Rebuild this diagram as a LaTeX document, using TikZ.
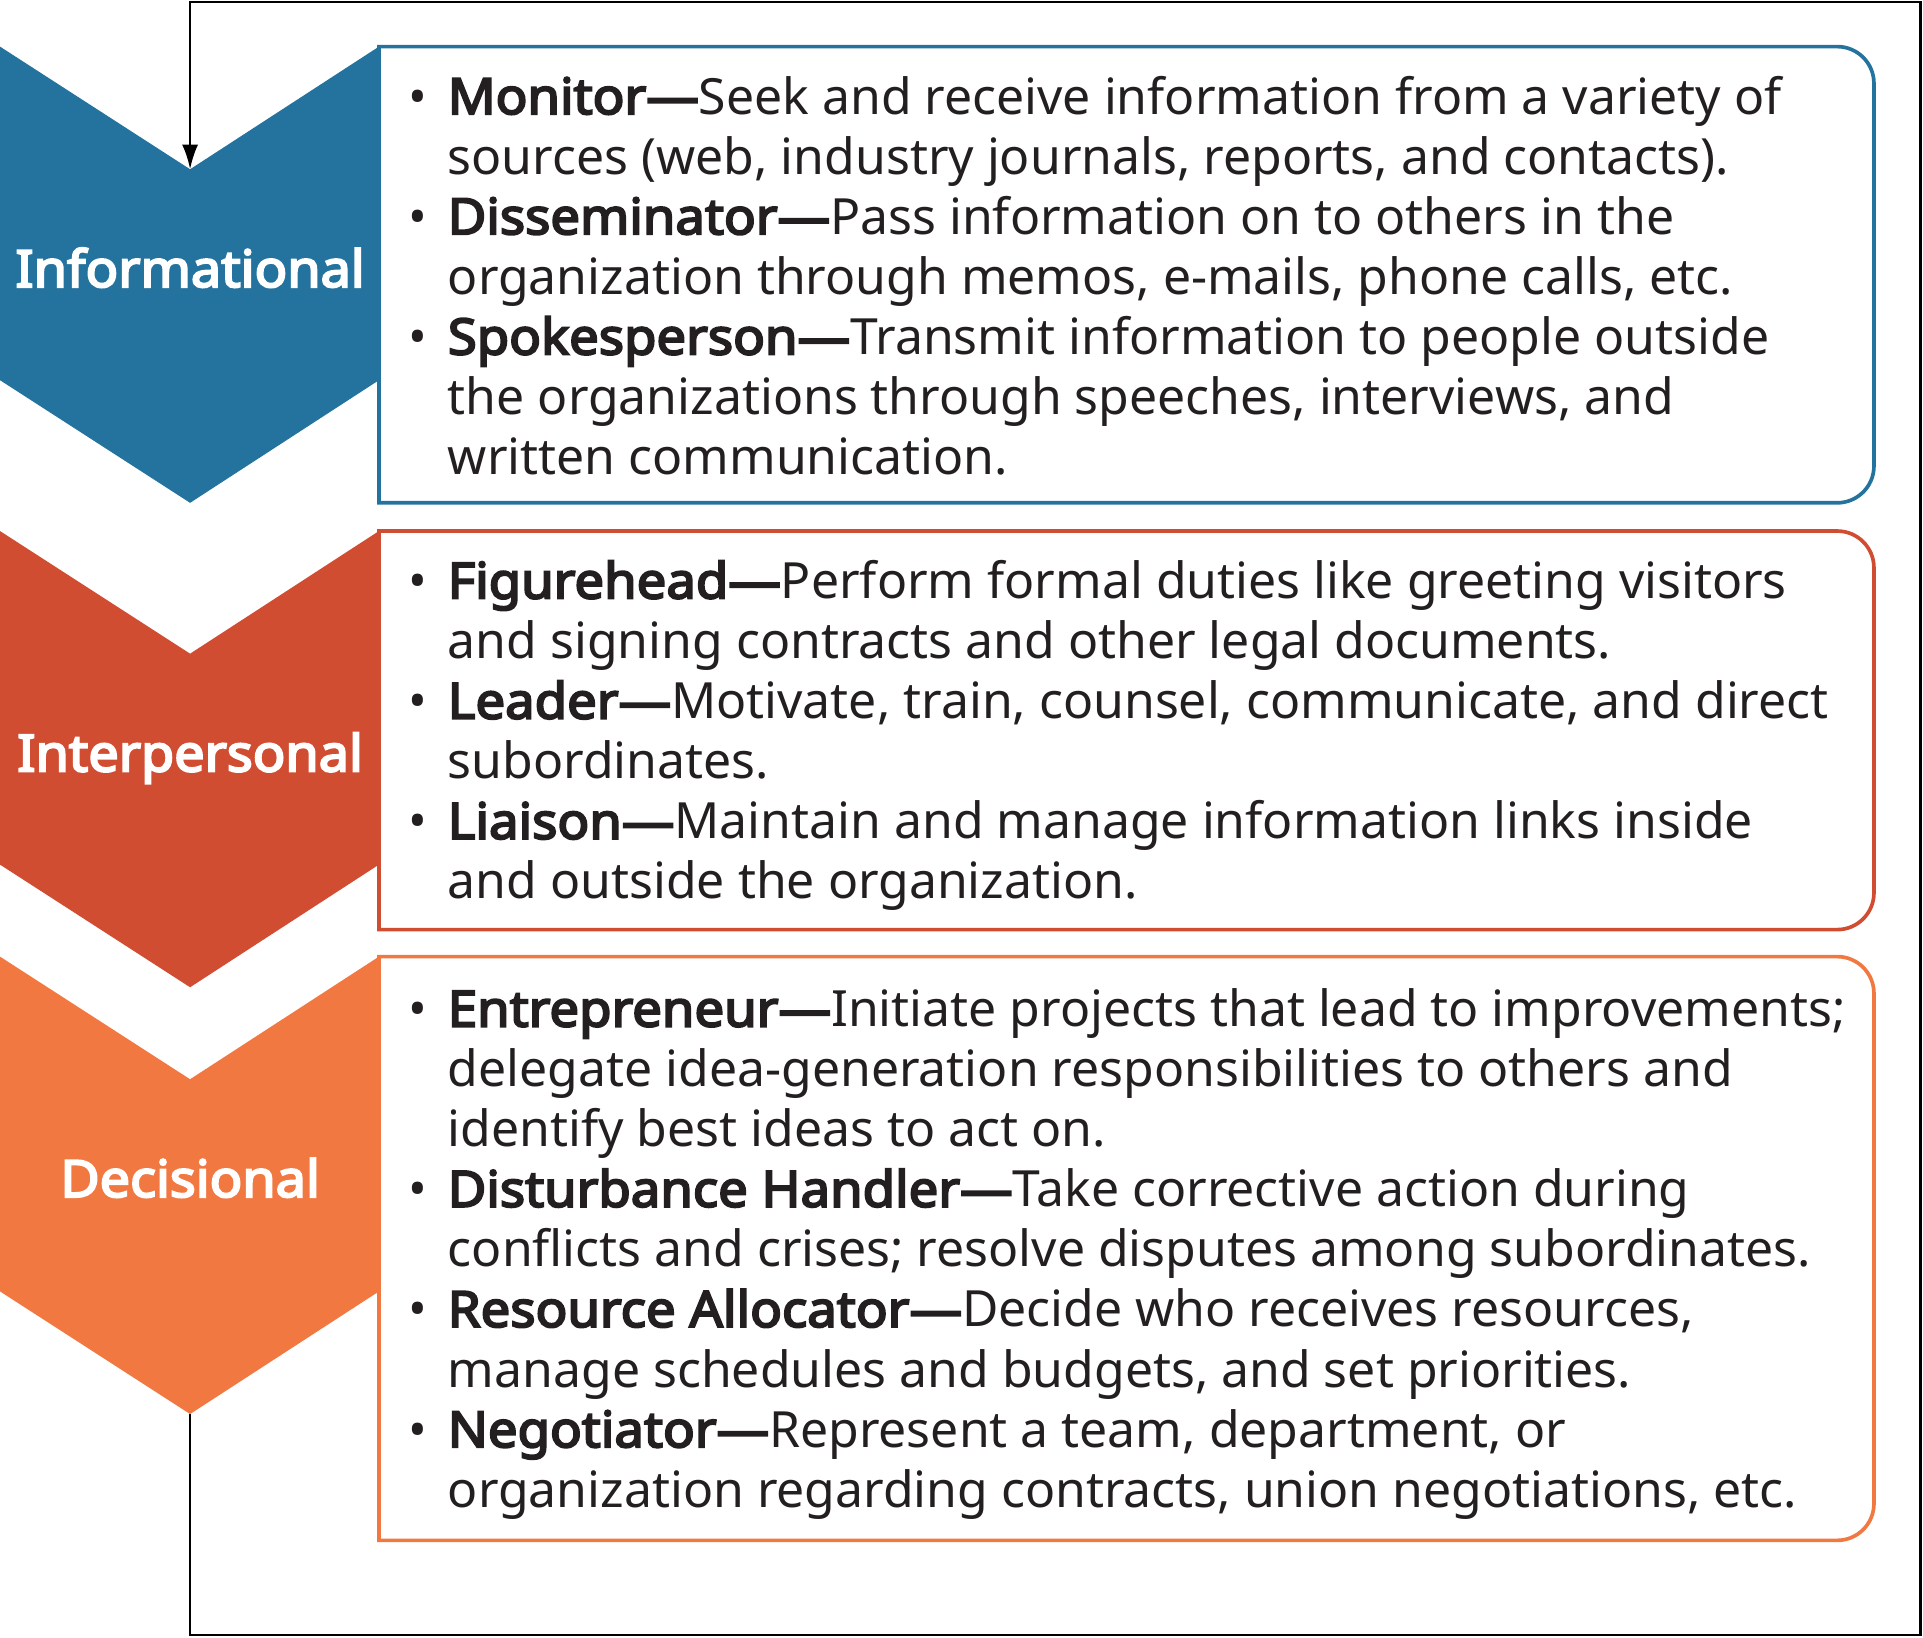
\documentclass[tikz,border=0pt]{standalone}
\usepackage{fontspec}
\setmainfont{Noto Sans}[BoldFont={Noto Sans}, BoldFeatures={FakeBold=4, FakeStretch=1.055}]
\usetikzlibrary{arrows.meta}
\definecolor{cblue}{RGB}{36,115,159}
\definecolor{cred}{RGB}{209,77,50}
\definecolor{corange}{RGB}{242,120,66}
\definecolor{ink}{RGB}{35,31,32}
\tikzset{
  boxline/.style={line width=3pt},
  frame/.style={line width=2pt, black},
  lab/.style={anchor=base, inner sep=0pt, text=white, font=\fontsize{41.7}{48}\selectfont\bfseries},
  body/.style={anchor=base west, inner sep=0pt, text=ink, font=\fontsize{40.7}{49}\selectfont},
  bul/.style={anchor=base, inner sep=0pt, text=ink, font=\fontsize{40.7}{49}\selectfont},
}
\begin{document}
\begin{tikzpicture}[x=1pt,y=-1pt]
\useasboundingbox (0,0) rectangle (1568,1335);
% chevrons
\fill[cblue] (0,38) -- (155,138) -- (309,38) -- (309,310) -- (155,410) -- (0,310) -- cycle;
\fill[cred] (0,433) -- (155,533) -- (309,433) -- (309,705) -- (155,805) -- (0,705) -- cycle;
\fill[corange] (0,780) -- (155,880) -- (309,780) -- (309,1053) -- (155,1153) -- (0,1053) -- cycle;
\coordinate (notch) at (155,138);
\coordinate (tip) at (155,1153);
% boxes
\draw[boxline, cblue] (309,410) -- (309,38) -- (1498,38) arc (-90:0:30) -- (1528,380) arc (0:90:30) -- cycle;
\draw[boxline, cred] (309,758) -- (309,433) -- (1498,433) arc (-90:0:30) -- (1528,728) arc (0:90:30) -- cycle;
\draw[boxline, corange] (309,1256) -- (309,780) -- (1498,780) arc (-90:0:30) -- (1528,1226) arc (0:90:30) -- cycle;
% labels
\node[lab] (linfo) at (155,234) {Informational};
\node[lab] (linter) at (155,629) {Interpersonal};
\node[lab] (ldec) at (155,976) {Decisional};
% frame loop
\coordinate (c1) at (155,1333);
\coordinate (c2) at (1566,1333);
\coordinate (c3) at (1566,1.5);
\coordinate (c4) at (155,1.5);
\draw[frame] (tip) -- (c1) -- (c2) -- (c3) -- (c4) -- (155,120);
\draw[frame, -{Latex[length=20pt,width=13pt]}] (c4) -- (notch);
% blue box text
\node[bul] (bb1) at (341,93) {•};
\node[body] (b1) at (365,93) {\textbf{Monitor—}Seek and receive information from a variety of};
\node[body] (b2) at (365,142) {sources (web, industry journals, reports, and contacts).};
\node[bul] (bb2) at (341,191) {•};
\node[body] (b3) at (365,191) {\textbf{Disseminator—}Pass information on to others in the};
\node[body] (b4) at (365,240) {organization through memos, e-mails, phone calls, etc.};
\node[bul] (bb3) at (341,289) {•};
\node[body] (b5) at (365,289) {\textbf{Spokesperson—}Transmit information to people outside};
\node[body] (b6) at (365,338) {the organizations through speeches, interviews, and};
\node[body] (b7) at (365,387) {written communication.};
% red box text
\node[bul] (rb1) at (341,488) {•};
\node[body] (r1) at (365,488) {\textbf{Figurehead—}Perform formal duties like greeting visitors};
\node[body] (r2) at (365,537) {and signing contracts and other legal documents.};
\node[bul] (rb2) at (341,586) {•};
\node[body] (r3) at (365,586) {\textbf{Leader—}Motivate, train, counsel, communicate, and direct};
\node[body] (r4) at (365,635) {subordinates.};
\node[bul] (rb3) at (341,684) {•};
\node[body] (r5) at (365,684) {\textbf{Liaison—}Maintain and manage information links inside};
\node[body] (r6) at (365,733) {and outside the organization.};
% orange box text
\node[bul] (ob1) at (341,837) {•};
\node[body] (o1) at (365,837) {\textbf{Entrepreneur—}Initiate projects that lead to improvements;};
\node[body] (o2) at (365,886) {delegate idea-generation responsibilities to others and};
\node[body] (o3) at (365,935) {identify best ideas to act on.};
\node[bul] (ob2) at (341,984) {•};
\node[body] (o4) at (365,984) {\textbf{Disturbance Handler—}Take corrective action during};
\node[body] (o5) at (365,1033) {conflicts and crises; resolve disputes among subordinates.};
\node[bul] (ob3) at (341,1082) {•};
\node[body] (o6) at (365,1082) {\textbf{Resource Allocator—}Decide who receives resources,};
\node[body] (o7) at (365,1131) {manage schedules and budgets, and set priorities.};
\node[bul] (ob4) at (341,1180) {•};
\node[body] (o8) at (365,1180) {\textbf{Negotiator—}Represent a team, department, or};
\node[body] (o9) at (365,1229) {organization regarding contracts, union negotiations, etc.};
\end{tikzpicture}
\end{document}
